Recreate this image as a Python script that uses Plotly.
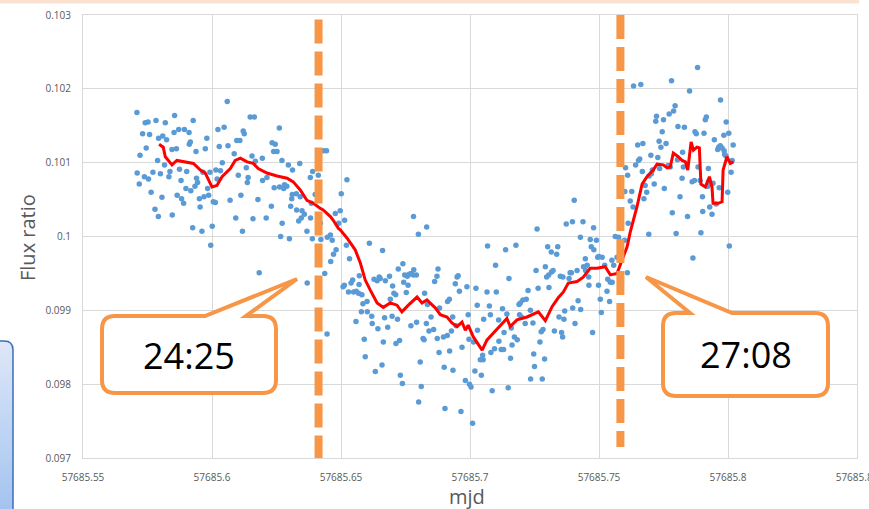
import plotly.graph_objects as go

# Observation epoch base (MJD); times below are fractions of that day
MJD_BASE = 57685.0

# Individual flux-ratio measurements
obs_t = [
    0.5709, 0.5710, 0.5718, 0.5721, 0.5731, 0.5738, 0.5741, 0.5745, 0.5752, 0.5754,
    0.5758, 0.5764, 0.5771, 0.5779, 0.5783, 0.5789, 0.5792, 0.5793, 0.5800, 0.5806,
    0.5809, 0.5816, 0.5819, 0.5824, 0.5833, 0.5837, 0.5845, 0.5846, 0.5853, 0.5855,
    0.5862, 0.5865, 0.5871, 0.5874, 0.5880, 0.5882, 0.5890, 0.5893, 0.5899, 0.5902,
    0.5911, 0.5912, 0.5916, 0.5918, 0.5925, 0.5927, 0.5934, 0.5938, 0.5940, 0.5944,
    0.5951, 0.5954, 0.5961, 0.5965, 0.5969, 0.5974, 0.5980, 0.5983, 0.5987, 0.5992,
    0.5995, 0.6001, 0.6005, 0.6013, 0.6015, 0.6020, 0.6023, 0.6028, 0.6033, 0.6040,
    0.6047, 0.6059, 0.6062, 0.6070, 0.6086, 0.6092, 0.6096, 0.6102, 0.6108, 0.6112,
    0.6118, 0.6121, 0.6125, 0.6133, 0.6137, 0.6140, 0.6148, 0.6155, 0.6159, 0.6164,
    0.6168, 0.6178, 0.6183, 0.6195, 0.6196, 0.6210, 0.6213, 0.6230, 0.6233, 0.6239,
    0.6241, 0.6245, 0.6252, 0.6261, 0.6262, 0.6266, 0.6271, 0.6272, 0.6278, 0.6281,
    0.6290, 0.6296, 0.6300, 0.6305, 0.6309, 0.6311, 0.6312, 0.6327, 0.6328, 0.6336,
    0.6340, 0.6342, 0.6346, 0.6349, 0.6358, 0.6368, 0.6369, 0.6381, 0.6382, 0.6385,
    0.6389, 0.6390, 0.6400, 0.6412, 0.6420, 0.6422, 0.6433, 0.6437, 0.6444, 0.6446,
    0.6447, 0.6459, 0.6460, 0.6466, 0.6471, 0.6478, 0.6481, 0.6491, 0.6497, 0.6501,
    0.6508, 0.6513, 0.6514, 0.6521, 0.6523, 0.6529, 0.6533, 0.6539, 0.6545, 0.6549,
    0.6558, 0.6559, 0.6568, 0.6570, 0.6571, 0.6579, 0.6581, 0.6585, 0.6590, 0.6594,
    0.6601, 0.6602, 0.6610, 0.6619, 0.6621, 0.6628, 0.6633, 0.6640, 0.6643, 0.6648,
    0.6652, 0.6659, 0.6661, 0.6664, 0.6669, 0.6672, 0.6681, 0.6688, 0.6691, 0.6698,
    0.6700, 0.6705, 0.6712, 0.6713, 0.6719, 0.6722, 0.6727, 0.6730, 0.6738, 0.6740,
    0.6743, 0.6747, 0.6753, 0.6757, 0.6760, 0.6764, 0.6771, 0.6772, 0.6780, 0.6781,
    0.6782, 0.6792, 0.6793, 0.6800, 0.6801, 0.6807, 0.6811, 0.6818, 0.6822, 0.6824,
    0.6831, 0.6832, 0.6835, 0.6841, 0.6849, 0.6859, 0.6863, 0.6872, 0.6873, 0.6876,
    0.6880, 0.6882, 0.6897, 0.6900, 0.6903, 0.6912, 0.6913, 0.6920, 0.6921, 0.6928,
    0.6933, 0.6934, 0.6943, 0.6946, 0.6950, 0.6954, 0.6959, 0.6965, 0.6969, 0.6982,
    0.6988, 0.6993, 0.6996, 0.6998, 0.7004, 0.7010, 0.7014, 0.7019, 0.7023, 0.7028,
    0.7029, 0.7040, 0.7044, 0.7049, 0.7051, 0.7053, 0.7066, 0.7068, 0.7075, 0.7079,
    0.7081, 0.7086, 0.7095, 0.7099, 0.7102, 0.7111, 0.7112, 0.7121, 0.7126, 0.7130,
    0.7132, 0.7138, 0.7143, 0.7148, 0.7151, 0.7157, 0.7160, 0.7163, 0.7172, 0.7178,
    0.7183, 0.7190, 0.7192, 0.7195, 0.7199, 0.7205, 0.7214, 0.7218, 0.7225, 0.7234,
    0.7235, 0.7244, 0.7247, 0.7250, 0.7256, 0.7260, 0.7264, 0.7271, 0.7276, 0.7280,
    0.7283, 0.7289, 0.7292, 0.7297, 0.7301, 0.7305, 0.7306, 0.7315, 0.7316, 0.7322,
    0.7327, 0.7336, 0.7340, 0.7345, 0.7350, 0.7355, 0.7359, 0.7360, 0.7364, 0.7367,
    0.7373, 0.7384, 0.7388, 0.7393, 0.7397, 0.7398, 0.7404, 0.7407, 0.7415, 0.7419,
    0.7428, 0.7429, 0.7438, 0.7440, 0.7447, 0.7448, 0.7454, 0.7460, 0.7461, 0.7466,
    0.7470, 0.7475, 0.7479, 0.7480, 0.7490, 0.7495, 0.7498, 0.7499, 0.7505, 0.7509,
    0.7512, 0.7522, 0.7531, 0.7534, 0.7541, 0.7544, 0.7550, 0.7551, 0.7557, 0.7563,
    0.7570, 0.7576, 0.7583, 0.7599, 0.7600, 0.7603, 0.7610, 0.7611, 0.7613, 0.7621,
    0.7627, 0.7632, 0.7634, 0.7642, 0.7650, 0.7653, 0.7658, 0.7662, 0.7668, 0.7670,
    0.7674, 0.7679, 0.7685, 0.7693, 0.7694, 0.7701, 0.7703, 0.7707, 0.7714, 0.7720,
    0.7723, 0.7728, 0.7733, 0.7735, 0.7740, 0.7745, 0.7750, 0.7753, 0.7760, 0.7768,
    0.7772, 0.7776, 0.7781, 0.7784, 0.7789, 0.7795, 0.7799, 0.7804, 0.7806, 0.7814,
    0.7822, 0.7824, 0.7827, 0.7831, 0.7843, 0.7851, 0.7861, 0.7864, 0.7870, 0.7872,
    0.7877, 0.7882, 0.7884, 0.7892, 0.7895, 0.7901, 0.7902, 0.7907, 0.7912, 0.7916,
    0.7922, 0.7924, 0.7925, 0.7929, 0.7938, 0.7942, 0.7947, 0.7954, 0.7960, 0.7964,
    0.7966, 0.7970, 0.7971, 0.7977, 0.7984, 0.7985, 0.7987, 0.7992, 0.7993, 0.7999,
    0.8003, 0.8005, 0.8012, 0.8016, 0.8020,
]
obs_flux = [
    0.10168, 0.10086, 0.10071, 0.10110, 0.10139, 0.10081, 0.10154, 0.10120, 0.10155, 0.10078,
    0.10138, 0.10060, 0.10087, 0.10037, 0.10157, 0.10103, 0.10027, 0.10133, 0.10085, 0.10053,
    0.10136, 0.10097, 0.10154, 0.10131, 0.10081, 0.10088, 0.10118, 0.10029, 0.10141, 0.10164,
    0.10119, 0.10056, 0.10145, 0.10091, 0.10076, 0.10051, 0.10045, 0.10145, 0.10065, 0.10088,
    0.10141, 0.10125, 0.10128, 0.10062, 0.10012, 0.10157, 0.10068, 0.10115, 0.10079, 0.10073,
    0.10051, 0.10040, 0.10007, 0.10087, 0.10054, 0.10119, 0.10133, 0.10065, 0.10056, 0.10087,
    0.09988, 0.10014, 0.10047, 0.10046, 0.10090, 0.10078, 0.10145, 0.10122, 0.10089, 0.10100,
    0.10148, 0.10183, 0.10123, 0.10049, 0.10112, 0.10025, 0.10130, 0.10083, 0.10130, 0.10056,
    0.10007, 0.10143, 0.10139, 0.10093, 0.10073, 0.10080, 0.10162, 0.10109, 0.10024, 0.10162,
    0.10102, 0.10050, 0.09951, 0.10106, 0.10076, 0.10025, 0.10080, 0.10041, 0.10127, 0.10115,
    0.10066, 0.10125, 0.10115, 0.10147, 0.10067, 0.10000, 0.10103, 0.10018, 0.10065, 0.10070,
    0.10068, 0.10097, 0.09997, 0.10041, 0.10051, 0.10057, 0.10090, 0.10058, 0.10036, 0.10021,
    0.10099, 0.10054, 0.10025, 0.10035, 0.10030, 0.10007, 0.09937, 0.10080, 0.10025, 0.10045,
    0.09997, 0.10088, 0.10057, 0.10083, 0.10018, 0.09996, 0.10116, 0.09950, 0.10116, 0.09868,
    0.09999, 0.10002, 0.09966, 0.09995, 0.09976, 0.10031, 0.09982, 0.10018, 0.10035, 0.10058,
    0.09932, 0.09934, 0.10022, 0.09988, 0.10077, 0.09925, 0.09970, 0.09937, 0.09941, 0.09925,
    0.09885, 0.09926, 0.09923, 0.09935, 0.09947, 0.09898, 0.09921, 0.09909, 0.09861, 0.09837,
    0.09912, 0.09898, 0.09991, 0.09892, 0.09882, 0.09942, 0.09817, 0.09940, 0.09875, 0.09945,
    0.09943, 0.09826, 0.09981, 0.09857, 0.09890, 0.09940, 0.09877, 0.09946, 0.09915, 0.09892,
    0.09933, 0.09923, 0.09921, 0.09855, 0.09888, 0.09956, 0.09859, 0.09812, 0.09801, 0.09963,
    0.09938, 0.09948, 0.09924, 0.09946, 0.09934, 0.09949, 0.09879, 0.09950, 0.09948, 0.10027,
    0.09955, 0.09948, 0.09884, 0.10003, 0.09776, 0.09830, 0.09797, 0.09862, 0.09860, 0.09923,
    0.09882, 0.10013, 0.09908, 0.09872, 0.09891, 0.09874, 0.09939, 0.09946, 0.09862, 0.09956,
    0.09843, 0.09903, 0.09864, 0.09823, 0.09767, 0.09866, 0.09912, 0.09915, 0.09845, 0.09872,
    0.09891, 0.09819, 0.09936, 0.09879, 0.09945, 0.09947, 0.09926, 0.09763, 0.09850, 0.09805,
    0.09932, 0.09894, 0.09861, 0.09800, 0.09796, 0.09747, 0.09857, 0.09818, 0.09930, 0.09907,
    0.09873, 0.09833, 0.09812, 0.09839, 0.09833, 0.09888, 0.09925, 0.09987, 0.09906, 0.09894,
    0.09843, 0.09791, 0.09848, 0.09961, 0.09925, 0.09887, 0.09858, 0.09847, 0.09902, 0.09847,
    0.09870, 0.09982, 0.09895, 0.09795, 0.09943, 0.09835, 0.09876, 0.09853, 0.09864, 0.09988,
    0.09860, 0.09908, 0.09894, 0.09910, 0.09891, 0.09914, 0.09882, 0.09915, 0.09927, 0.09900,
    0.09807, 0.09883, 0.09841, 0.09824, 0.09954, 0.10010, 0.09930, 0.09857, 0.09871, 0.09807,
    0.09874, 0.09834, 0.09959, 0.09945, 0.09986, 0.09948, 0.09931, 0.09979, 0.09952, 0.09954,
    0.09872, 0.09976, 0.09986, 0.09891, 0.09946, 0.09870, 0.09864, 0.09945, 0.09888, 0.09899,
    0.10017, 0.09943, 0.09951, 0.09951, 0.10020, 0.09903, 0.10049, 0.09882, 0.09954, 0.09913,
    0.09999, 0.09901, 0.10020, 0.09959, 0.09970, 0.09954, 0.09961, 0.09945, 0.09934, 0.09996,
    0.09986, 0.09870, 0.10012, 0.09982, 0.09995, 0.09972, 0.09934, 0.09973, 0.09915, 0.09897,
    0.09972, 0.09961, 0.09926, 0.09942, 0.09912, 0.09938, 0.09968, 0.09938, 0.09961, 0.10000,
    0.09972, 0.09999, 0.10058, 0.09995, 0.10061, 0.10093, 0.09951, 0.10083, 0.10018, 0.10048,
    0.10061, 0.10040, 0.10204, 0.10097, 0.10124, 0.10103, 0.10105, 0.10206, 0.10088, 0.10126,
    0.10051, 0.10069, 0.10060, 0.10003, 0.10082, 0.10110, 0.10085, 0.10090, 0.10071, 0.10156,
    0.10163, 0.10107, 0.10129, 0.10092, 0.10121, 0.10142, 0.10158, 0.10065, 0.10126, 0.10096,
    0.10166, 0.10094, 0.10211, 0.10032, 0.10170, 0.10177, 0.10004, 0.10104, 0.10149, 0.10054,
    0.10079, 0.10114, 0.10094, 0.10148, 0.10027, 0.10197, 0.10074, 0.09971, 0.10076, 0.10142,
    0.10139, 0.10229, 0.10094, 0.10076, 0.10005, 0.10054, 0.10034, 0.10140, 0.10158, 0.10162,
    0.10068, 0.10092, 0.10074, 0.10040, 0.10030, 0.10072, 0.10131, 0.10044, 0.10118, 0.10121,
    0.10066, 0.10123, 0.10185, 0.10120, 0.10137, 0.10116, 0.10111, 0.10109, 0.10155, 0.10060,
    0.10140, 0.09987, 0.10087, 0.10103, 0.10124,
]

# Running-mean curve of the flux ratio
avg_t = [
    0.5795, 0.5811, 0.5819, 0.5845, 0.5864, 0.5903, 0.5928, 0.5955, 0.5974, 0.6000,
    0.6019, 0.6039, 0.6058, 0.6071, 0.6090, 0.6110, 0.6136, 0.6160, 0.6179, 0.6213,
    0.6252, 0.6291, 0.6315, 0.6342, 0.6368, 0.6393, 0.6420, 0.6431, 0.6459, 0.6470,
    0.6490, 0.6497, 0.6523, 0.6555, 0.6575, 0.6594, 0.6614, 0.6640, 0.6664, 0.6691,
    0.6717, 0.6736, 0.6761, 0.6795, 0.6814, 0.6833, 0.6866, 0.6885, 0.6911, 0.6930,
    0.6950, 0.6969, 0.6982, 0.6993, 0.7013, 0.7047, 0.7066, 0.7090, 0.7117, 0.7143,
    0.7156, 0.7182, 0.7221, 0.7265, 0.7292, 0.7318, 0.7342, 0.7362, 0.7381, 0.7415,
    0.7439, 0.7466, 0.7492, 0.7524, 0.7544, 0.7570, 0.7589, 0.7609, 0.7621, 0.7647,
    0.7667, 0.7686, 0.7710, 0.7725, 0.7749, 0.7764, 0.7776, 0.7788, 0.7807, 0.7822,
    0.7835, 0.7844, 0.7857, 0.7866, 0.7880, 0.7889, 0.7895, 0.7912, 0.7928, 0.7938,
    0.7942, 0.7962, 0.7977, 0.7981, 0.7996, 0.8009, 0.8021,
]
avg_flux = [
    0.10125, 0.10121, 0.10108, 0.10097, 0.10103, 0.10101, 0.10099, 0.10090, 0.10086, 0.10067,
    0.10069, 0.10081, 0.10087, 0.10092, 0.10103, 0.10106, 0.10101, 0.10099, 0.10092, 0.10086,
    0.10082, 0.10079, 0.10074, 0.10063, 0.10049, 0.10045, 0.10038, 0.10036, 0.10027, 0.10022,
    0.10011, 0.10009, 0.09998, 0.09982, 0.09964, 0.09941, 0.09927, 0.09910, 0.09904, 0.09910,
    0.09907, 0.09898, 0.09907, 0.09918, 0.09910, 0.09914, 0.09903, 0.09894, 0.09891, 0.09883,
    0.09878, 0.09884, 0.09873, 0.09880, 0.09864, 0.09846, 0.09860, 0.09869, 0.09878, 0.09889,
    0.09878, 0.09887, 0.09891, 0.09898, 0.09886, 0.09905, 0.09917, 0.09925, 0.09937, 0.09939,
    0.09945, 0.09957, 0.09957, 0.09959, 0.09948, 0.09950, 0.09968, 0.09986, 0.10006, 0.10040,
    0.10071, 0.10081, 0.10090, 0.10098, 0.10097, 0.10093, 0.10094, 0.10113, 0.10108, 0.10103,
    0.10101, 0.10090, 0.10128, 0.10117, 0.10121, 0.10120, 0.10071, 0.10067, 0.10081, 0.10067,
    0.10045, 0.10045, 0.10047, 0.10090, 0.10108, 0.10099, 0.10101,
]

# First and last contact markers with their clock labels
contact_mjd = [57685.6413, 57685.7583]
contact_labels = ["24:25", "27:08"]

x_tickvals = [57685.55, 57685.60, 57685.65, 57685.70, 57685.75, 57685.80, 57685.85]
x_ticktext = ["57685.55", "57685.6", "57685.65", "57685.7", "57685.75", "57685.8", "57685.85"]
y_tickvals = [0.097, 0.098, 0.099, 0.100, 0.101, 0.102, 0.103]
y_ticktext = ["0.097", "0.098", "0.099", "0.1", "0.101", "0.102", "0.103"]

W, H = 869, 509
ML, MR, MT, MB = 83, 12, 15, 51
PW, PH = W - ML - MR, H - MT - MB

ORANGE = "#F79646"
GRID = "#D9D9D9"
TEXT = "#595959"


def fx(p):
    """Page pixel column -> paper fraction."""
    return (p - ML) / PW


def fy(p):
    """Page pixel row -> paper fraction."""
    return (H - MB - p) / PH


def pt(x, y):
    return f"{fx(x):.5f},{fy(y):.5f}"


def callout_path(x0, y0, x1, y1, r, base_a, tip, base_b):
    return (
        f"M{pt(x0 + r, y0)} L{pt(base_a, y0)} L{pt(*tip)} L{pt(base_b, y0)} "
        f"L{pt(x1 - r, y0)} Q{pt(x1, y0)} {pt(x1, y0 + r)} "
        f"L{pt(x1, y1 - r)} Q{pt(x1, y1)} {pt(x1 - r, y1)} "
        f"L{pt(x0 + r, y1)} Q{pt(x0, y1)} {pt(x0, y1 - r)} "
        f"L{pt(x0, y0 + r)} Q{pt(x0, y0)} {pt(x0 + r, y0)} Z"
    )


fig = go.Figure()

fig.add_trace(go.Scatter(
    x=[MJD_BASE + t for t in obs_t], y=obs_flux,
    mode="markers",
    marker=dict(color="#5B9BD5", size=5.5, line=dict(width=0)),
    hoverinfo="skip",
))
fig.add_trace(go.Scatter(
    x=[MJD_BASE + t for t in avg_t], y=avg_flux,
    mode="lines",
    line=dict(color="#FF0000", width=3),
    hoverinfo="skip",
))

shapes = []

# Thin peach band along the top of the page
shapes.append(dict(type="rect", xref="paper", yref="paper",
                   x0=fx(0), x1=fx(859), y0=fy(0), y1=fy(3.5),
                   fillcolor="#FBE1D0", line=dict(width=0), layer="below"))

# Partially visible blue panel at the lower-left edge
top_c = (221, 231, 248)
bot_c = (163, 195, 240)
y_start, y_end, step = 341.0, 510.0, 3.0
corner_r = 9.0
yy = y_start
while yy < y_end:
    frac = (yy - y_start) / (y_end - y_start)
    col = tuple(round(a + (b - a) * frac) for a, b in zip(top_c, bot_c))
    ymid = yy + step / 2
    xr = 13.0
    if ymid < y_start + corner_r:
        d = (y_start + corner_r) - ymid
        xr = 4.0 + max(0.0, corner_r ** 2 - d ** 2) ** 0.5
    shapes.append(dict(type="rect", xref="paper", yref="paper",
                       x0=fx(-4), x1=fx(xr), y0=fy(yy), y1=fy(yy + step + 0.6),
                       fillcolor=f"rgb{col}", line=dict(width=0), layer="above"))
    yy += step
shapes.append(dict(type="path", xref="paper", yref="paper",
                   path=f"M{pt(-4, 341)} L{pt(4, 341)} Q{pt(13, 341)} {pt(13, 350)} L{pt(13, 515)}",
                   line=dict(color="#3E6DB5", width=1.5), layer="above"))

# Vertical dashed contact markers
shapes.append(dict(type="line", xref="x", yref="y",
                   x0=contact_mjd[0], x1=contact_mjd[0], y0=0.10294, y1=0.09698,
                   line=dict(color=ORANGE, width=8, dash="24px,8px"), layer="above"))
shapes.append(dict(type="line", xref="x", yref="y",
                   x0=contact_mjd[1], x1=contact_mjd[1], y0=0.10300, y1=0.09715,
                   line=dict(color=ORANGE, width=8, dash="24px,8px"), layer="above"))

# Speech-bubble callouts
shapes.append(dict(type="path", xref="paper", yref="paper",
                   path=callout_path(102, 316, 276, 393, 13, 205, (297, 279), 246),
                   fillcolor="white", line=dict(color=ORANGE, width=4), layer="above"))
shapes.append(dict(type="path", xref="paper", yref="paper",
                   path=callout_path(663, 313, 828, 396, 13, 690, (646, 277), 732),
                   fillcolor="white", line=dict(color=ORANGE, width=4), layer="above"))

annotations = [
    dict(xref="paper", yref="paper", x=fx(189), y=fy(355), text=contact_labels[0],
         showarrow=False, xanchor="center", yanchor="middle",
         font=dict(family="Open Sans", size=36, color="black")),
    dict(xref="paper", yref="paper", x=fx(746), y=fy(354), text=contact_labels[1],
         showarrow=False, xanchor="center", yanchor="middle",
         font=dict(family="Open Sans", size=36, color="black")),
    # Axis titles
    dict(xref="paper", yref="paper", x=fx(467), y=fy(496), text="mjd",
         showarrow=False, xanchor="center", yanchor="middle",
         font=dict(family="Open Sans", size=20, color=TEXT)),
    dict(xref="paper", yref="paper", x=fx(27), y=fy(238), text="Flux ratio",
         showarrow=False, xanchor="center", yanchor="middle", textangle=-90,
         font=dict(family="Open Sans", size=20, color=TEXT)),
]

fig.update_layout(
    width=W, height=H,
    margin=dict(l=ML, r=MR, t=MT, b=MB, pad=0, autoexpand=False),
    paper_bgcolor="white", plot_bgcolor="white",
    showlegend=False,
    shapes=shapes,
    annotations=annotations,
    xaxis=dict(
        range=[57685.55, 57685.85], automargin=False,
        tickvals=x_tickvals, ticktext=x_ticktext,
        ticklabeloverflow="allow",
        showgrid=True, gridcolor=GRID, gridwidth=1,
        showline=True, linecolor=GRID, linewidth=1, mirror=True,
        zeroline=False,
        ticks="outside", ticklen=10, tickcolor="rgba(0,0,0,0)",
        tickfont=dict(family="Open Sans", size=10, color=TEXT),
    ),
    yaxis=dict(
        range=[0.097, 0.103], automargin=False,
        tickvals=y_tickvals, ticktext=y_ticktext,
        showgrid=True, gridcolor=GRID, gridwidth=1,
        showline=True, linecolor=GRID, linewidth=1, mirror=True,
        zeroline=False,
        ticks="outside", ticklen=9, tickcolor="rgba(0,0,0,0)",
        tickfont=dict(family="Open Sans", size=10, color=TEXT),
    ),
)

fig.write_html("out.html")
